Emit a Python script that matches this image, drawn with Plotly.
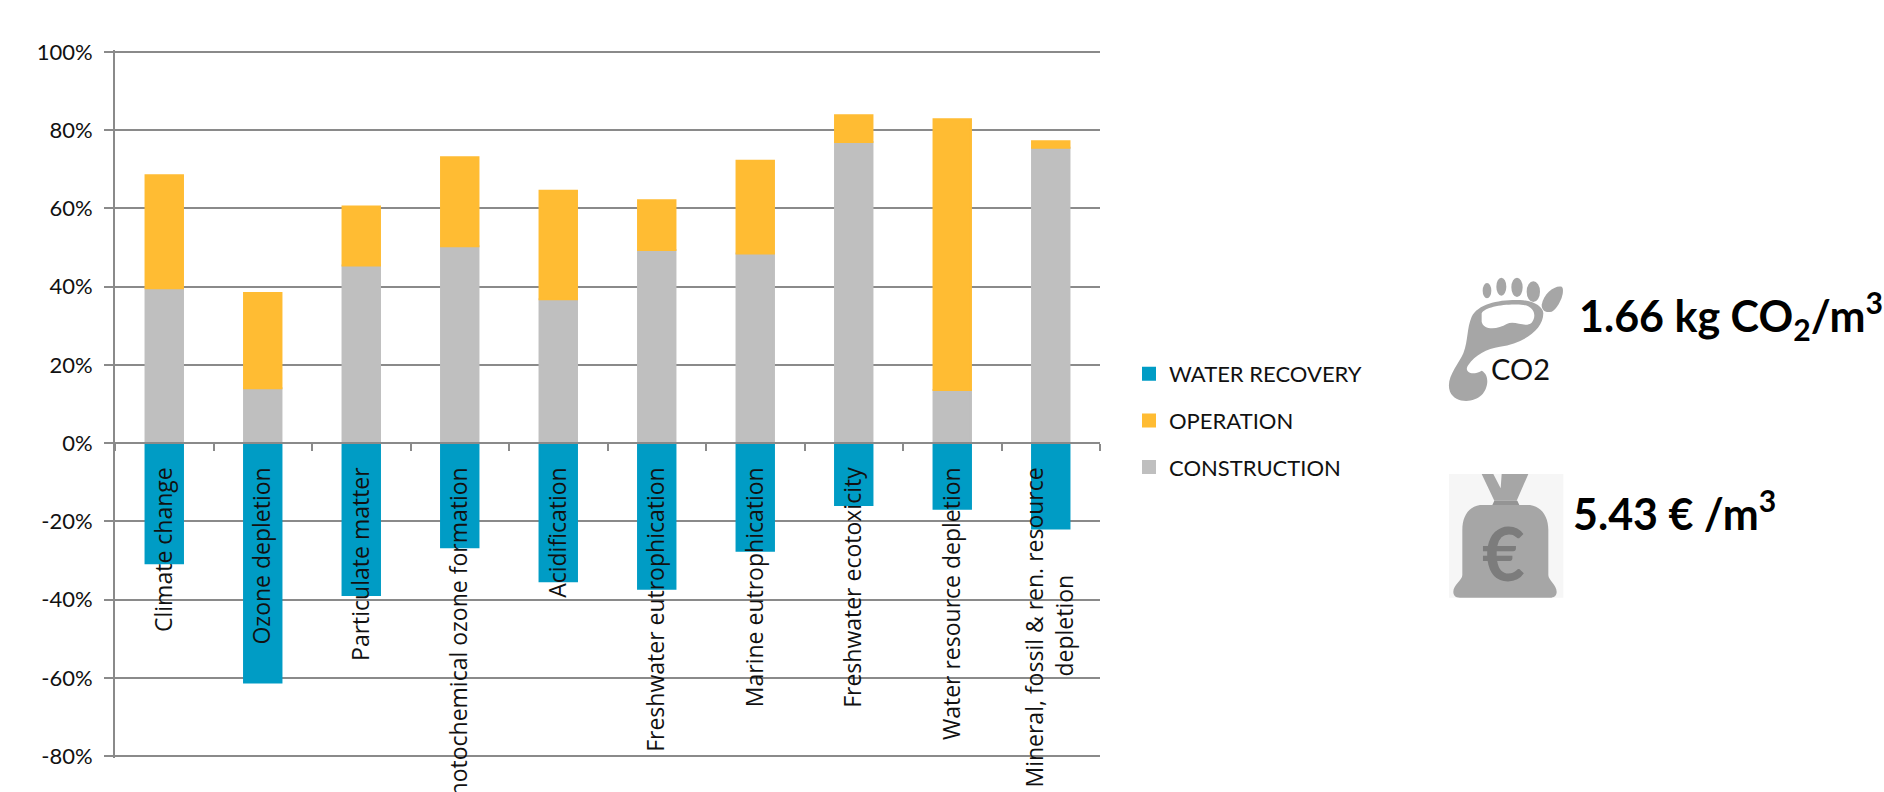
import plotly.graph_objects as go

categories = ["Climate change", "Ozone depletion", "Particulate matter",
              "Photochemical ozone formation", "Acidification",
              "Freshwater eutrophication", "Marine eutrophication",
              "Freshwater ecotoxicity", "Water resource depletion",
              "Mineral, fossil & ren. resource"]
tick_labels = categories[:-1] + ["Mineral, fossil & ren. resource<br>depletion" + "\u00a0" * 18]
construction = [39.6, 14.0, 45.4, 50.3, 36.8, 49.4, 48.5, 77.0, 13.6, 75.5]
totals = [68.5, 38.4, 60.5, 73.1, 64.5, 62.1, 72.2, 83.8, 82.8, 77.2]
operation = [round(t - c, 1) for t, c in zip(totals, construction)]
water_recovery = [-30.7, -61.2, -38.8, -26.6, -35.3, -37.2, -27.5, -15.8, -16.8, -21.8]
y_ticks = [-80, -60, -40, -20, 0, 20, 40, 60, 80, 100]
y_range = [-80.5, 100.5]

W, H = 1884, 792
L, R, T, B = 115, 784, 50, 34
AX = "#8A8A8A"
ICON = "#A6A6A6"
FONT = "Lato"
TXT = "#111111"

fig = go.Figure()
for name, vals, col, rank in [("CONSTRUCTION", construction, "#BFBFBF", 3),
                              ("OPERATION", operation, "#FFBC33", 2),
                              ("WATER RECOVERY", water_recovery, "#009CC5", 1)]:
    fig.add_bar(x=categories, y=vals, name=name, legendgroup=name, legendrank=rank,
                marker=dict(color=col, line=dict(width=2, color=col)))


def px(x):
    return (x - L) / (W - L - R)


def py(y):
    return (H - B - y) / (H - T - B)


def zx(v):
    return 1400 + v / 3


def zy(v):
    return 250 + v / 3


def icon_path(cmds):
    parts = []
    for c, pts in cmds:
        s = c
        for i in range(0, len(pts), 2):
            s += f"{px(zx(pts[i])):.5f},{py(zy(pts[i + 1])):.5f} "
        parts.append(s.strip())
    return " ".join(parts) + " Z"


def add_icon(cmds, color):
    fig.add_shape(type="path", xref="paper", yref="paper", path=icon_path(cmds),
                  fillcolor=color, line=dict(width=0), layer="above")


def ellipse(cx, cy, rx, ry, color):
    fig.add_shape(type="circle", xref="paper", yref="paper",
                  x0=px(zx(cx - rx)), x1=px(zx(cx + rx)),
                  y0=py(zy(cy - ry)), y1=py(zy(cy + ry)),
                  fillcolor=color, line=dict(width=0), layer="above")


# footprint icon
add_icon([("M", [215, 200]), ("C", [235, 160, 300, 148, 360, 150]),
          ("C", [400, 152, 430, 170, 430, 190]), ("C", [430, 240, 370, 280, 300, 290]),
          ("C", [260, 296, 225, 315, 205, 345]), ("C", [190, 365, 215, 380, 245, 362]),
          ("C", [270, 375, 265, 415, 245, 435]), ("C", [220, 460, 165, 460, 150, 425]),
          ("C", [135, 385, 175, 345, 190, 310]), ("C", [205, 270, 200, 235, 215, 200])], ICON)
add_icon([("M", [245, 190]), ("C", [255, 170, 320, 160, 370, 165]),
          ("C", [405, 170, 410, 200, 395, 218]), ("C", [375, 235, 345, 210, 320, 222]),
          ("C", [295, 238, 250, 242, 245, 215])], "#FFFFFF")
ellipse(261, 122, 13, 23, ICON)
ellipse(304, 110, 15, 27, ICON)
ellipse(351, 112, 17, 29, ICON)
ellipse(400, 125, 20, 31, ICON)
add_icon([("M", [425, 165]), ("C", [430, 130, 465, 105, 485, 110]),
          ("C", [497, 120, 480, 170, 455, 185]), ("C", [435, 190, 425, 180, 425, 165])], ICON)

# money bag icon
fig.add_shape(type="rect", xref="paper", yref="paper",
              x0=px(zx(147)), x1=px(zx(490)), y0=py(zy(672)), y1=py(zy(1043)),
              fillcolor="#F6F6F6", line=dict(width=0), layer="above")
add_icon([("M", [240, 765]), ("L", [390, 765]), ("C", [425, 770, 445, 800, 445, 840]),
          ("L", [445, 975]), ("C", [445, 990, 470, 1005, 470, 1025]),
          ("C", [470, 1037, 462, 1043, 450, 1043]), ("L", [180, 1043]),
          ("C", [165, 1043, 160, 1035, 160, 1025]), ("C", [160, 1005, 187, 990, 187, 975]),
          ("L", [187, 840]), ("C", [187, 800, 205, 770, 240, 765])], ICON)
add_icon([("M", [245, 672]), ("L", [280, 672]), ("L", [302, 715]), ("L", [305, 672]),
          ("L", [385, 672]), ("L", [350, 752]), ("L", [283, 752])], ICON)
add_icon([("M", [283, 752]), ("L", [352, 752]), ("L", [358, 765]), ("L", [277, 765])], "#949494")


def note(text, x, y, size, color=TXT, bold=False, xanchor="left"):
    fig.add_annotation(text=f"<b>{text}</b>" if bold else text, xref="paper", yref="paper",
                       x=px(x), y=py(y), xanchor=xanchor, yanchor="middle", showarrow=False,
                       font=dict(family=FONT, size=size, color=color), borderpad=0)


note("1.66 kg CO<sub>2</sub>/m<sup>3</sup>", 1578, 315, 43, "#000000", True)
note("5.43 € /m<sup>3</sup>", 1572, 510, 43, "#000000", True)
note("CO2", 1520, 368, 29, "#111111", False, "center")
note("€", 1503, 552, 74, "#7C7C7C", True, "center")

zero_frac = (0 - y_range[0]) / (y_range[1] - y_range[0])

fig.update_layout(
    width=W, height=H, paper_bgcolor="white", plot_bgcolor="white",
    barmode="relative", bargap=0.62,
    margin=dict(l=L, r=R, t=T, b=B, pad=0, autoexpand=False),
    showlegend=True,
    legend=dict(x=1129 / W, y=1 - 353 / H, xref="container", yref="container",
                xanchor="left", yanchor="top",
                traceorder="grouped", tracegroupgap=15, itemwidth=30,
                font=dict(family=FONT, size=22, color=TXT), bgcolor="rgba(0,0,0,0)",
                borderwidth=0),
    font=dict(family=FONT, color=TXT),
    xaxis=dict(type="category", categoryorder="array", categoryarray=categories,
               tickmode="array", tickvals=categories, ticktext=tick_labels,
               anchor="free", position=zero_frac,
               showline=True, linecolor=AX, linewidth=2, showgrid=False,
               ticks="outside", tickson="boundaries", ticklen=7, tickcolor=AX, tickwidth=2,
               tickangle=-90, ticklabelstandoff=14, automargin=False,
               tickfont=dict(family="Open Sans", size=23, color=TXT)),
    yaxis=dict(range=y_range, tickmode="array", tickvals=y_ticks,
               ticktext=[f"{v}%" for v in y_ticks],
               showgrid=True, gridcolor=AX, gridwidth=2, zeroline=False,
               showline=True, linecolor=AX, linewidth=2,
               ticks="outside", ticklen=9, tickcolor=AX, tickwidth=2,
               ticklabelstandoff=7, automargin=False,
               tickfont=dict(family=FONT, size=22, color=TXT)),
)

fig.write_html("out.html", config={"displayModeBar": False},
               post_script="document.body.style.margin='0';")
